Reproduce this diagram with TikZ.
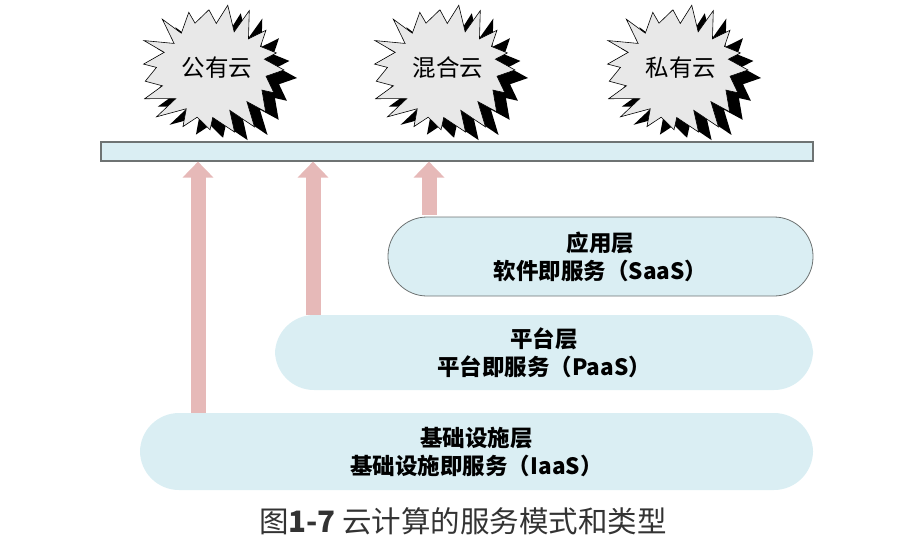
\documentclass[tikz,border=0pt]{standalone}
\usepackage{fontspec}
\setmainfont{Liberation Sans}
\newfontfamily\cjk{Noto Sans CJK SC}
\usetikzlibrary{arrows.meta}
\definecolor{lb}{HTML}{DAEEF3}
\definecolor{pk}{HTML}{E6B9B8}
\definecolor{sg}{HTML}{E8E8E8}
\definecolor{bd}{HTML}{6E7373}
\newcommand\burstpath[3]{%
  \path[#3] plot[samples at={0,...,37}, variable=\i]
   ({#1+cos(\i*360/38+4*sin(\i*211))*(mod(\i,2)==0 ? 72 : 52)*(1+0.07*sin(\i*137))},
    {#2+sin(\i*360/38+4*sin(\i*211))*(mod(\i,2)==0 ? 64 : 46)*(1+0.07*sin(\i*137))}) -- cycle;}
\newcommand\burst[2]{%
  \burstpath{#1+13}{#2+8}{fill=black}
  \burstpath{#1}{#2}{fill=sg,draw=black,line width=0.6pt}}
\tikzset{
  capsule/.style={fill=lb, rounded corners=39pt, align=center, inner sep=0pt,
     font=\cjk\bfseries\fontsize{22.5}{28}\selectfont},
  barbox/.style={fill=lb, draw=bd, line width=1.2pt, inner sep=0pt},
  parrow/.style={draw=pk, line width=15pt, -{Triangle[width=30pt,length=16pt,fill=pk]}},
  startext/.style={font=\cjk\fontsize{23.5}{24}\selectfont, inner sep=0pt},
  caption/.style={font=\cjk\fontsize{29.5}{30}\selectfont, text=black!80, inner sep=0pt}
}
\begin{document}
\begin{tikzpicture}[x=1pt,y=-1pt]
\useasboundingbox (0,0) rectangle (924,550);
\burst{212}{70}
\burst{443}{70}
\burst{676}{70}
\node[startext] (pub) at (217,68) {公有云};
\node[startext] (hyb) at (448,68) {混合云};
\node[startext] (pri) at (681,68) {私有云};
\node[barbox, minimum width=712pt, minimum height=19pt] (bar) at (457,151.5) {};
\node[capsule, draw=bd, line width=0.8pt, minimum width=425pt, minimum height=79pt] (saas) at (600.5,256.5) {应用层\\软件即服务（SaaS）};
\node[capsule, minimum width=538pt, minimum height=75pt] (paas) at (544,352.5) {平台层\\平台即服务（PaaS）};
\node[capsule, minimum width=673pt, minimum height=77pt] (iaas) at (476.5,451.5) {基础设施层\\基础设施即服务（IaaS）};
\coordinate (a1) at (198,0);
\coordinate (a2) at (313,0);
\coordinate (a3) at (429,0);
\draw[parrow] (iaas.north -| a1) -- (bar.south -| a1);
\draw[parrow] (paas.north -| a2) -- (bar.south -| a2);
\draw[parrow] (saas.north -| a3) ++(0,-2) -- (bar.south -| a3);
\node[caption] (cap) at (463,521) {图{\bfseries 1-7} 云计算的服务模式和类型};
\end{tikzpicture}
\end{document}
